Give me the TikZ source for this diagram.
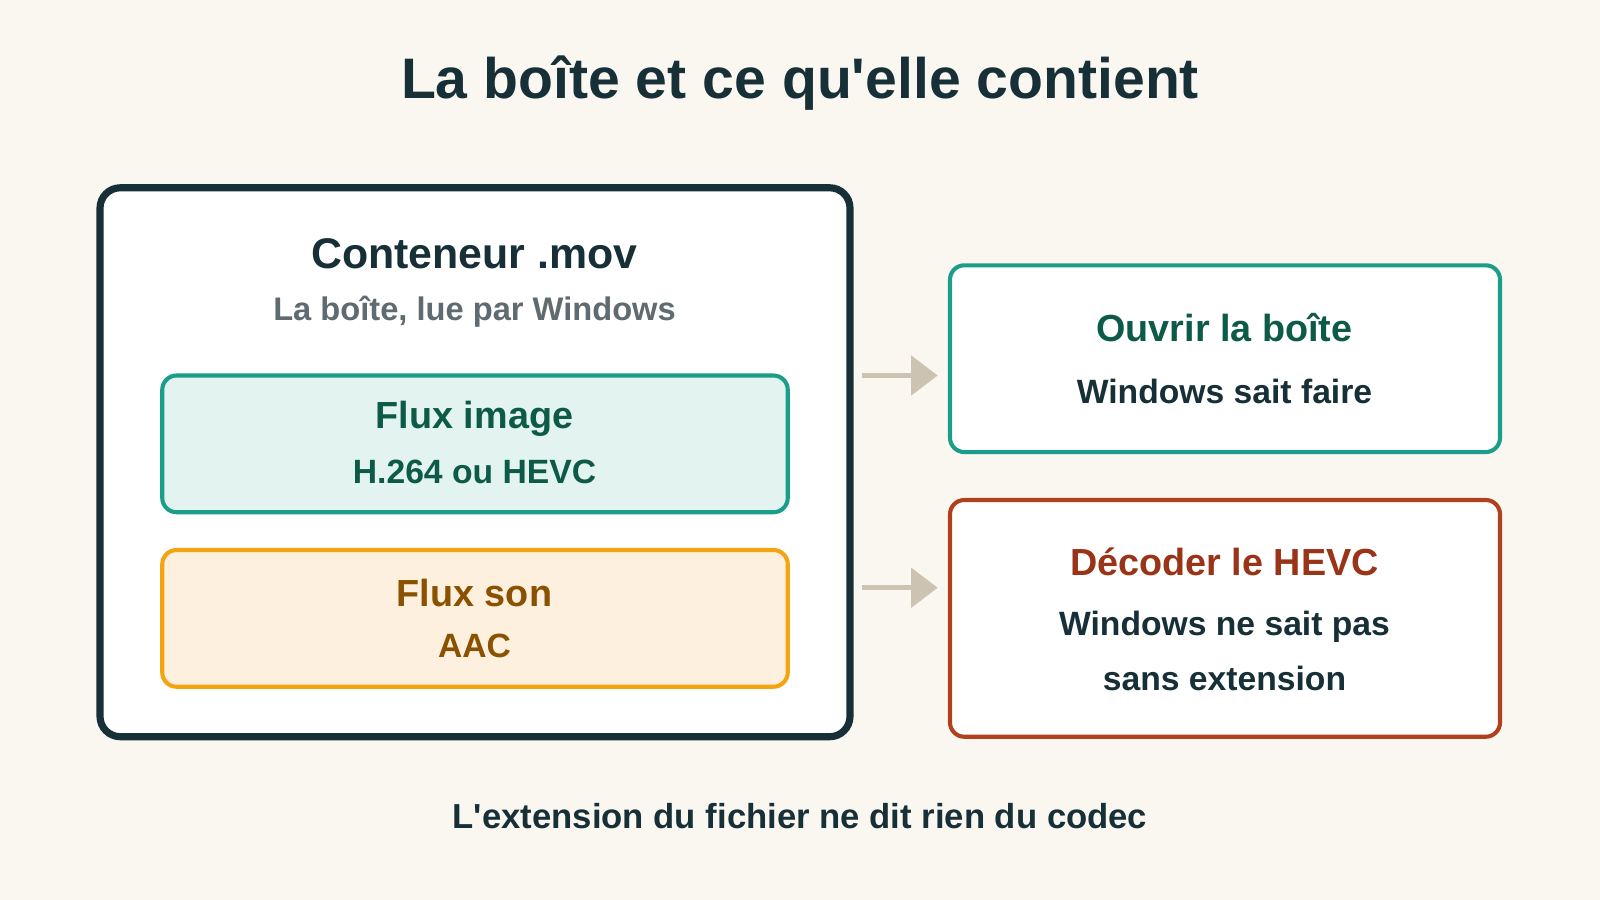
\documentclass[tikz,border=0pt]{standalone}
\usepackage{fontspec}
\setmainfont{Liberation Sans}[Ligatures=TeXOff]
\usepackage{tikz, xcolor}
\usetikzlibrary{shapes,arrows.meta}
\definecolor{bgc}{HTML}{FAF7F1}
\definecolor{ink}{HTML}{173038}
\definecolor{greyt}{HTML}{5F6B70}
\definecolor{teal}{HTML}{1A9E8A}
\definecolor{tealfill}{HTML}{E3F3EF}
\definecolor{tealtxt}{HTML}{0D5A48}
\definecolor{orng}{HTML}{F4A410}
\definecolor{orngfill}{HTML}{FDF0DE}
\definecolor{orngtxt}{HTML}{8A5200}
\definecolor{rust}{HTML}{B0401E}
\definecolor{rusttxt}{HTML}{9A3418}
\definecolor{arr}{HTML}{CDC3B3}
\newcommand{\fs}[1]{\fontsize{#1}{#1}\selectfont\bfseries}
\begin{document}
\begin{tikzpicture}[x=1pt, y=-1pt]
\tikzstyle{boxs}=[rectangle, rounded corners=14pt, line width=4pt]
\tikzstyle{txt}=[inner sep=0pt, anchor=center]
\tikzstyle{arrowstyle}=[draw=arr, line width=5pt, -{Triangle[length=26pt, width=38pt]}]

\fill[bgc] (0,0) rectangle (1568,882);
\useasboundingbox (0,0) rectangle (1568,882);

\node[txt, text=ink] (title) at (784,81) {\fs{56}La boîte et ce qu'elle contient};

\draw[boxs, draw=ink, fill=white, line width=7pt, rounded corners=20pt] (98,184) rectangle (833,722);
\node[txt, text=ink] (mov) at (465,249) {\fs{42}Conteneur .mov};
\node[txt, text=greyt] (movsub) at (465,305) {\fs{32}La boîte, lue par Windows};

\draw[boxs, draw=teal, fill=tealfill] (159,368) rectangle (772,502);
\node[txt, text=tealtxt] (img) at (465,410) {\fs{37}Flux image};
\node[txt, text=tealtxt] (imgsub) at (465,462) {\fs{33}H.264 ou HEVC};

\draw[boxs, draw=orng, fill=orngfill] (159,539) rectangle (772,673);
\node[txt, text=orngtxt] (son) at (465,581) {\fs{37}Flux son};
\node[txt, text=orngtxt] (sonsub) at (465,633) {\fs{33}AAC};

\draw[boxs, draw=teal, fill=white] (931,260) rectangle (1470,443);
\node[txt, text=tealtxt] (open) at (1200,321) {\fs{37}Ouvrir la boîte};
\node[txt, text=ink] (opensub) at (1200,384) {\fs{33}Windows sait faire};

\draw[boxs, draw=rust, fill=white] (931,490) rectangle (1470,722);
\node[txt, text=rusttxt] (dec) at (1200,551) {\fs{37}Décoder le HEVC};
\node[txt, text=ink] (decsub) at (1200,614) {\fs{33}Windows ne sait pas};
\node[txt, text=ink] (decsub2) at (1200,665) {\fs{33}sans extension};

\coordinate (A1) at (845,368);
\coordinate (B1) at (919,368);
\coordinate (A2) at (845,576);
\coordinate (B2) at (919,576);
\draw[arrowstyle] (A1) -- (B1);
\draw[arrowstyle] (A2) -- (B2);

\node[txt, text=ink] (foot) at (784,800) {\fs{34}L'extension du fichier ne dit rien du codec};
\end{tikzpicture}
\end{document}
